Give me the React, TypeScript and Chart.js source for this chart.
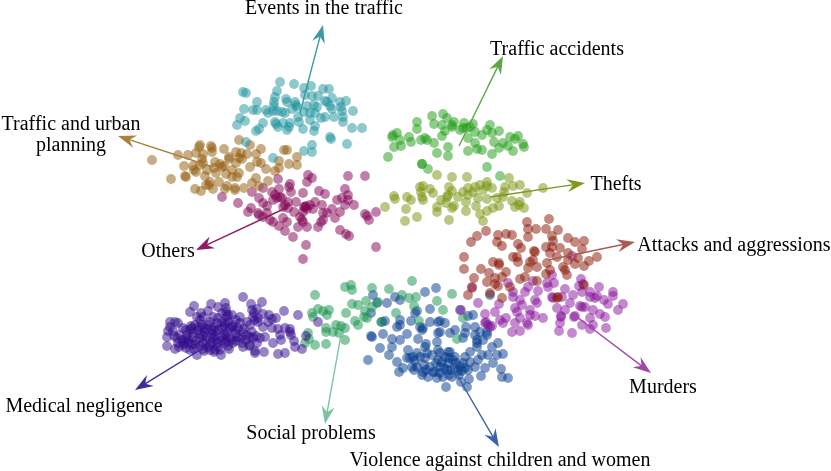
import React, { useEffect, useRef } from "react";
import { Chart, registerables } from "chart.js";

Chart.register(...registerables);

type P = [number, number];

const trafficEvents: P[] = [[280,82],[294,84],[304,88],[311,86],[323,89],[329,89],[243,92],[246,93],[277,91],[275,97],[257,102],[274,102],[286,99],[287,102],[295,102],[296,105],[305,95],[312,96],[318,96],[325,101],[332,98],[327,102],[340,102],[346,101],[274,106],[244,109],[253,110],[257,110],[266,110],[268,113],[273,111],[277,111],[282,112],[285,113],[292,109],[297,107],[307,106],[314,105],[317,107],[330,106],[332,109],[341,107],[342,111],[353,111],[240,118],[245,121],[237,125],[263,123],[275,122],[276,124],[283,123],[290,123],[278,127],[287,130],[289,127],[299,122],[298,117],[304,112],[310,113],[315,113],[310,120],[321,118],[325,117],[334,117],[343,122],[343,117],[303,129],[314,131],[315,126],[259,129],[256,131],[352,128],[362,128],[330,137],[331,139],[347,144],[312,145],[304,151],[312,152],[246,142],[273,158]];

const urbanPlanning: P[] = [[152,160],[171,179],[178,155],[188,155],[196,153],[200,145],[199,147],[203,154],[211,146],[212,152],[224,149],[239,140],[250,145],[261,149],[256,154],[236,152],[241,153],[247,154],[229,157],[239,158],[284,150],[287,150],[297,157],[279,161],[289,164],[297,165],[279,168],[275,171],[266,169],[250,167],[257,162],[261,163],[184,166],[193,166],[194,170],[185,176],[186,177],[196,172],[202,159],[203,163],[200,165],[215,162],[220,164],[224,166],[229,159],[216,173],[205,176],[207,170],[210,182],[209,185],[219,182],[195,189],[201,191],[206,185],[213,189],[227,186],[225,189],[235,188],[235,190],[244,188],[232,170],[237,177],[239,173],[226,174],[232,177],[268,181],[259,186],[256,178],[252,183],[214,168],[222,167],[242,159],[212,148],[236,163]];

const others: P[] = [[308,175],[312,178],[307,182],[348,176],[365,176],[278,179],[290,184],[289,187],[291,192],[252,192],[263,188],[272,192],[279,189],[275,195],[280,197],[303,193],[319,191],[325,194],[345,189],[348,195],[342,198],[337,200],[222,197],[238,203],[259,198],[263,203],[267,206],[251,208],[248,212],[259,215],[267,213],[270,220],[273,222],[285,205],[288,208],[283,207],[296,202],[294,212],[305,207],[307,209],[303,212],[310,205],[315,202],[322,205],[313,209],[323,213],[327,213],[332,209],[340,212],[345,205],[354,205],[348,200],[335,218],[323,220],[321,222],[318,227],[307,227],[302,220],[300,217],[303,222],[298,227],[285,231],[279,226],[283,218],[287,222],[293,237],[340,230],[346,234],[349,236],[365,214],[367,216],[369,220],[376,212],[376,247],[306,245],[303,259],[263,217],[258,213],[277,198],[273,200],[282,198],[288,202],[304,207],[306,206]];

const accidents: P[] = [[432,116],[443,114],[447,118],[417,122],[434,124],[442,125],[452,125],[454,122],[464,123],[473,124],[490,125],[499,131],[487,130],[417,129],[445,131],[442,136],[452,127],[460,130],[467,128],[475,132],[482,135],[492,133],[468,138],[393,135],[397,133],[392,137],[400,140],[409,137],[411,142],[421,140],[425,138],[427,140],[434,143],[394,147],[401,146],[448,147],[437,153],[448,156],[388,157],[468,151],[475,143],[477,149],[482,150],[492,154],[499,148],[494,142],[503,143],[508,146],[510,137],[515,139],[518,136],[523,144],[524,147],[513,151],[422,164],[422,164],[428,169],[487,167],[500,176],[470,127],[463,128]];

const thefts: P[] = [[437,175],[452,177],[467,177],[509,178],[487,182],[423,186],[420,187],[430,189],[433,193],[449,187],[452,191],[480,185],[475,187],[468,188],[463,192],[487,186],[492,188],[505,187],[513,186],[520,185],[543,188],[527,193],[504,192],[503,197],[497,198],[487,199],[512,201],[520,202],[515,207],[524,208],[499,206],[493,208],[487,211],[480,214],[483,221],[476,206],[466,202],[466,211],[454,206],[452,208],[437,207],[437,212],[446,203],[441,200],[448,195],[458,197],[468,195],[478,198],[394,196],[395,199],[407,197],[411,200],[422,197],[421,192],[423,200],[385,207],[406,209],[417,217],[405,221],[449,220],[519,205],[473,192],[483,190],[447,197]];

const attacks: P[] = [[549,219],[527,222],[528,229],[536,229],[546,229],[558,230],[486,231],[477,236],[471,242],[498,235],[506,234],[512,235],[497,242],[502,246],[528,237],[552,236],[553,241],[568,238],[575,242],[584,241],[518,244],[521,248],[546,247],[552,247],[560,248],[534,251],[582,249],[568,253],[517,257],[513,257],[518,262],[533,260],[530,262],[547,263],[550,253],[464,257],[493,262],[499,265],[464,269],[481,269],[489,273],[506,272],[502,277],[495,278],[474,278],[487,282],[495,284],[498,286],[510,287],[520,279],[525,277],[537,281],[528,268],[537,267],[546,274],[550,270],[565,270],[567,275],[563,267],[575,264],[584,266],[589,261],[597,257],[578,258],[468,295],[472,287],[490,293],[502,298],[557,298],[558,297],[584,285],[568,260],[557,257],[535,252],[499,263]];

const murders: P[] = [[572,256],[552,275],[581,279],[583,284],[579,286],[508,283],[533,281],[547,283],[554,283],[565,289],[599,287],[582,292],[590,292],[613,292],[613,296],[595,298],[604,300],[513,292],[528,287],[525,292],[538,291],[548,287],[552,297],[562,297],[573,295],[570,303],[580,306],[585,307],[593,310],[608,304],[618,310],[623,304],[600,314],[605,317],[606,328],[572,333],[590,318],[582,325],[593,325],[561,316],[574,317],[565,310],[557,308],[560,323],[559,331],[535,300],[537,303],[515,308],[517,312],[520,300],[522,305],[530,310],[520,318],[527,323],[535,316],[543,318],[512,332],[520,331],[515,323],[499,304],[495,312],[503,323],[506,318],[461,310],[478,303],[472,288],[485,314],[486,322],[490,327],[513,297],[597,296],[590,297],[553,298],[530,315],[582,307],[575,316],[561,317],[500,320],[485,323],[590,329],[528,325],[492,326]];

const medical: P[] = [[243,297],[262,302],[251,304],[194,306],[211,304],[225,303],[218,307],[226,308],[190,312],[201,313],[208,311],[252,310],[257,309],[284,311],[298,315],[263,314],[269,315],[276,318],[272,319],[253,317],[255,320],[170,322],[175,322],[178,323],[197,317],[203,317],[213,317],[222,313],[232,315],[227,317],[240,317],[247,322],[195,325],[202,325],[208,325],[217,323],[225,323],[233,325],[240,323],[250,325],[258,322],[263,327],[183,328],[190,330],[198,330],[205,332],[212,330],[218,330],[227,332],[235,330],[243,332],[252,332],[173,331],[168,331],[167,337],[177,338],[180,335],[187,335],[193,337],[200,338],[207,337],[213,338],[222,337],[230,338],[238,337],[247,335],[253,338],[260,338],[265,337],[167,346],[175,349],[178,343],[183,345],[188,343],[195,345],[190,350],[197,355],[203,343],[210,345],[217,343],[225,343],[233,343],[242,343],[250,345],[257,343],[203,349],[210,350],[215,350],[220,350],[221,355],[229,349],[243,347],[249,346],[255,351],[255,353],[264,352],[278,354],[285,353],[273,343],[281,340],[280,335],[278,329],[285,328],[290,329],[291,335],[294,341],[295,347],[302,349],[306,336],[318,322],[290,332],[268,322],[272,328],[186,330],[192,328],[204,328],[214,327],[222,328],[230,328],[238,328],[182,340],[196,341],[206,341],[216,340],[226,341],[236,341],[246,340],[186,348],[194,349],[208,347],[218,347],[228,346],[174,336],[186,339],[200,334],[212,334],[224,334],[236,334],[244,329],[170,327],[210,322],[218,318],[228,322],[236,320],[200,320],[254,313],[258,318],[191,326],[199,327],[207,329],[215,331],[224,326],[232,327],[193,333],[203,336],[215,336],[226,336],[184,343],[192,344],[200,346],[212,343],[222,341],[232,340],[241,338],[228,315],[226,312],[222,322],[188,340],[179,347],[250,337],[256,336],[204,351],[214,352]];

const socialProblems: P[] = [[315,295],[345,287],[351,285],[352,290],[352,304],[358,305],[312,313],[313,317],[318,309],[323,311],[329,310],[327,315],[346,313],[355,321],[358,325],[326,332],[326,328],[333,332],[336,325],[341,326],[345,328],[339,333],[308,333],[309,339],[305,343],[315,345],[326,344],[345,340],[412,281],[389,289],[372,288],[402,295],[409,298],[416,297],[366,301],[372,307],[365,311],[364,317],[367,318],[378,302],[396,313],[414,306],[437,301],[452,294],[443,310],[463,318],[419,321],[381,322],[457,339]];

const violence: P[] = [[436,288],[425,292],[373,295],[395,297],[400,300],[387,303],[377,303],[371,313],[417,311],[430,309],[415,313],[473,315],[468,316],[490,295],[460,310],[400,320],[411,321],[382,322],[385,321],[397,327],[400,325],[420,327],[430,322],[438,322],[440,321],[445,323],[422,330],[423,328],[466,327],[455,330],[475,327],[488,325],[480,332],[487,332],[371,336],[372,337],[383,334],[392,339],[400,340],[407,334],[418,339],[438,333],[440,332],[450,333],[463,338],[465,333],[475,335],[477,340],[483,340],[487,335],[498,343],[492,347],[380,348],[392,347],[389,355],[426,344],[425,347],[437,342],[408,350],[417,353],[427,353],[438,350],[440,353],[448,352],[450,352],[455,357],[465,357],[477,343],[477,347],[482,355],[488,355],[497,355],[503,354],[368,360],[397,362],[399,372],[403,368],[410,358],[412,367],[417,367],[422,375],[430,367],[433,372],[438,360],[442,362],[448,363],[453,360],[465,368],[468,370],[475,367],[485,368],[493,363],[501,369],[502,377],[508,378],[481,376],[469,379],[459,375],[452,377],[443,377],[435,372],[428,377],[423,372],[446,387],[461,382],[467,387],[447,370],[455,368],[463,363],[407,358],[413,357],[420,357],[432,355],[440,367],[450,370],[458,371],[440,373],[415,361],[425,358],[424,365],[436,363],[445,357],[449,358],[444,368],[456,363],[460,366],[414,370],[426,370],[437,378],[449,375],[462,371],[470,362],[478,360],[470,352]];

const clusters: [P[], string, string][] = [
  [trafficEvents, "rgb(27,146,155)", "Events in the traffic"],
  [urbanPlanning, "rgb(146,91,10)", "Traffic and urban planning"],
  [others, "rgb(127,0,82)", "Others"],
  [accidents, "rgb(27,155,18)", "Traffic accidents"],
  [thefts, "rgb(120,146,9)", "Thefts"],
  [attacks, "rgb(136,18,0)", "Attacks and aggressions"],
  [murders, "rgb(136,18,155)", "Murders"],
  [medical, "rgb(50,10,140)", "Medical negligence"],
  [socialProblems, "rgb(18,146,73)", "Social problems"],
  [violence, "rgb(0,55,140)", "Violence against children and women"],
];

const arrowStarts: P[] = [[300,113],[213,167],[288,207],[459,146],[490,197],[548,260],[577,317],[200,350],[341,335],[450,363]];
const arrowTips: P[] = [[323,25],[118,136],[196,250],[503,56],[585,183],[635,242],[651,373],[135,390],[325,424],[499,447]];
const arrowColors = ["#3a9aa6","#a9803c","#8e1c64","#5fa548","#7d9a1e","#ad5a52","#a248ab","#3f2a98","#7cc3a0","#3c62ac"];

const labelTexts = [["Events in the traffic"],["Traffic and urban","planning"],["Others"],["Traffic accidents"],["Thefts"],["Attacks and aggressions"],["Murders"],["Medical negligence"],["Social problems"],["Violence against children and women"]];
const labelAnchors: P[] = [[324,9],[71,125],[168,252],[557,50],[616,185],[734,246],[663,388],[84,407],[311,434],[500,461]];

const annotations = {
  id: "annotations",
  afterDatasetsDraw(chart: any) {
    const { ctx, scales } = chart;
    const px = (v: number) => scales.x.getPixelForValue(v);
    const py = (v: number) => scales.y.getPixelForValue(v);
    ctx.save();
    arrowStarts.forEach((s, i) => {
      const t = arrowTips[i];
      const x0 = px(s[0]), y0 = py(s[1]), x1 = px(t[0]), y1 = py(t[1]);
      const a = Math.atan2(y1 - y0, x1 - x0);
      ctx.strokeStyle = arrowColors[i];
      ctx.fillStyle = arrowColors[i];
      ctx.lineWidth = 1.4;
      ctx.beginPath();
      ctx.moveTo(x0, y0);
      ctx.lineTo(x1 - 6 * Math.cos(a), y1 - 6 * Math.sin(a));
      ctx.stroke();
      ctx.translate(x1, y1);
      ctx.rotate(a);
      ctx.beginPath();
      ctx.moveTo(0, 0);
      ctx.lineTo(-18, -6.5);
      ctx.lineTo(-12, 0);
      ctx.lineTo(-18, 6.5);
      ctx.closePath();
      ctx.fill();
      ctx.rotate(-a);
      ctx.translate(-x1, -y1);
    });
    ctx.fillStyle = "#000";
    ctx.font = '20px "Liberation Serif"';
    ctx.textAlign = "center";
    ctx.textBaseline = "middle";
    labelTexts.forEach((lines, i) => {
      const a = labelAnchors[i];
      lines.forEach((line, j) => ctx.fillText(line, px(a[0]), py(a[1]) + j * 21));
    });
    ctx.restore();
  },
};

export default function App() {
  const ref = useRef<HTMLCanvasElement>(null);
  useEffect(() => {
    document.body.style.margin = "0";
    document.body.style.background = "#fff";
    const chart = new Chart(ref.current!, {
      type: "scatter",
      data: {
        datasets: clusters.map(([pts, color, label]) => ({
          label,
          data: pts.map(([x, y]) => ({ x, y })),
          backgroundColor: color.replace("rgb(", "rgba(").replace(")", ",0.5)"),
          borderWidth: 0,
          pointRadius: 4.9,
        })),
      },
      options: {
        animation: false,
        responsive: false,
        devicePixelRatio: 1,
        layout: { padding: 0, autoPadding: false },
        plugins: { legend: { display: false }, tooltip: { enabled: false } },
        scales: {
          x: { type: "linear", display: false, min: 0, max: 831 },
          y: { type: "linear", display: false, min: 0, max: 471, reverse: true },
        },
      },
      plugins: [annotations],
    });
    return () => chart.destroy();
  }, []);
  return <canvas ref={ref} width={831} height={471} style={{ display: "block" }} />;
}
